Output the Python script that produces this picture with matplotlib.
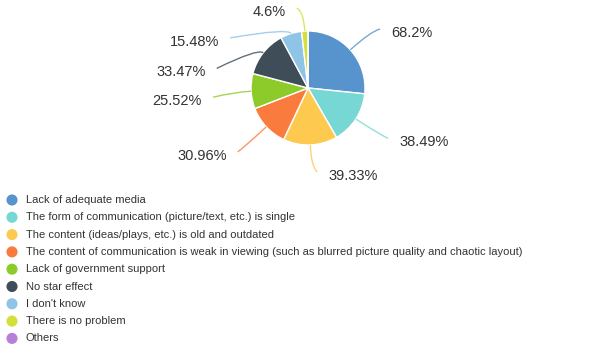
import numpy as np
import matplotlib.pyplot as plt
from matplotlib.path import Path
from matplotlib.patches import PathPatch

plt.rcParams['font.family'] = ['Liberation Sans', 'DejaVu Sans']

labels = ["Lack of adequate media",
          "The form of communication (picture/text, etc.) is single",
          "The content (ideas/plays, etc.) is old and outdated",
          "The content of communication is weak in viewing (such as blurred picture quality and chaotic layout)",
          "Lack of government support",
          "No star effect",
          "I don't know",
          "There is no problem",
          "Others"]
percent = [68.2, 38.49, 39.33, 30.96, 25.52, 33.47, 15.48, 4.6, 0]
colors = ['#5793cd', '#76d7d4', '#fdc94f', '#fa7b3e', '#8ccb2a',
          '#3e4d58', '#8ec4e6', '#d4e03a', '#b87fd8']

# leader line layout (pixels): radial length, then horizontal / vertical run
lead_len = [28, 30, 22, 28, 18, 7, 6, 20, 0]
lead_dx = [9, 7, 6, -8, -20, -41, -59, -7, 0]
lead_dy = [-2, 3, 5, 6, 5, 20, 10, -3, 0]

fig = plt.figure(figsize=(6.11, 3.49), dpi=100)
ax = fig.add_axes([0, 0, 1, 1])

cx, cy, r = 308, 261, 57
wedges, _ = ax.pie(percent, colors=colors, startangle=90, counterclock=False,
                   center=(cx, cy), radius=r, frame=True,
                   wedgeprops=dict(edgecolor='white', linewidth=1))
ax.set_xlim(0, 611)
ax.set_ylim(0, 349)
ax.axis('off')

for w, val, col, ln, dx, dy in zip(wedges, percent, colors, lead_len, lead_dx, lead_dy):
    if val == 0:
        continue
    ang = np.deg2rad((w.theta1 + w.theta2) / 2)
    ca, sa = np.cos(ang), np.sin(ang)
    side = 1 if dx > 0 else -1
    p0 = (cx + r * ca, cy + r * sa)
    p1 = (cx + (r + ln) * ca, cy + (r + ln) * sa)
    p2 = (p1[0] + dx, p1[1] - dy)
    path = Path([p0, p1, p2], [Path.MOVETO, Path.CURVE3, Path.CURVE3])
    ax.add_patch(PathPatch(path, fill=False, edgecolor=col, lw=1, alpha=0.8))
    ax.text(p2[0] + side * 11, p2[1] - 4, f"{val:g}%", fontsize=10.5, color='#333333',
            ha='left' if side > 0 else 'right', va='center')

# legend
y0, step = 349 - 200, 17.3
for i, (lab, col) in enumerate(zip(labels, colors)):
    y = y0 - i * step
    ax.scatter(12, y, s=64, color=col, edgecolors='none')
    ax.text(26, y, lab, fontsize=8.0, color='#333333', va='center', ha='left')

fig.savefig('out.png', dpi=100)
